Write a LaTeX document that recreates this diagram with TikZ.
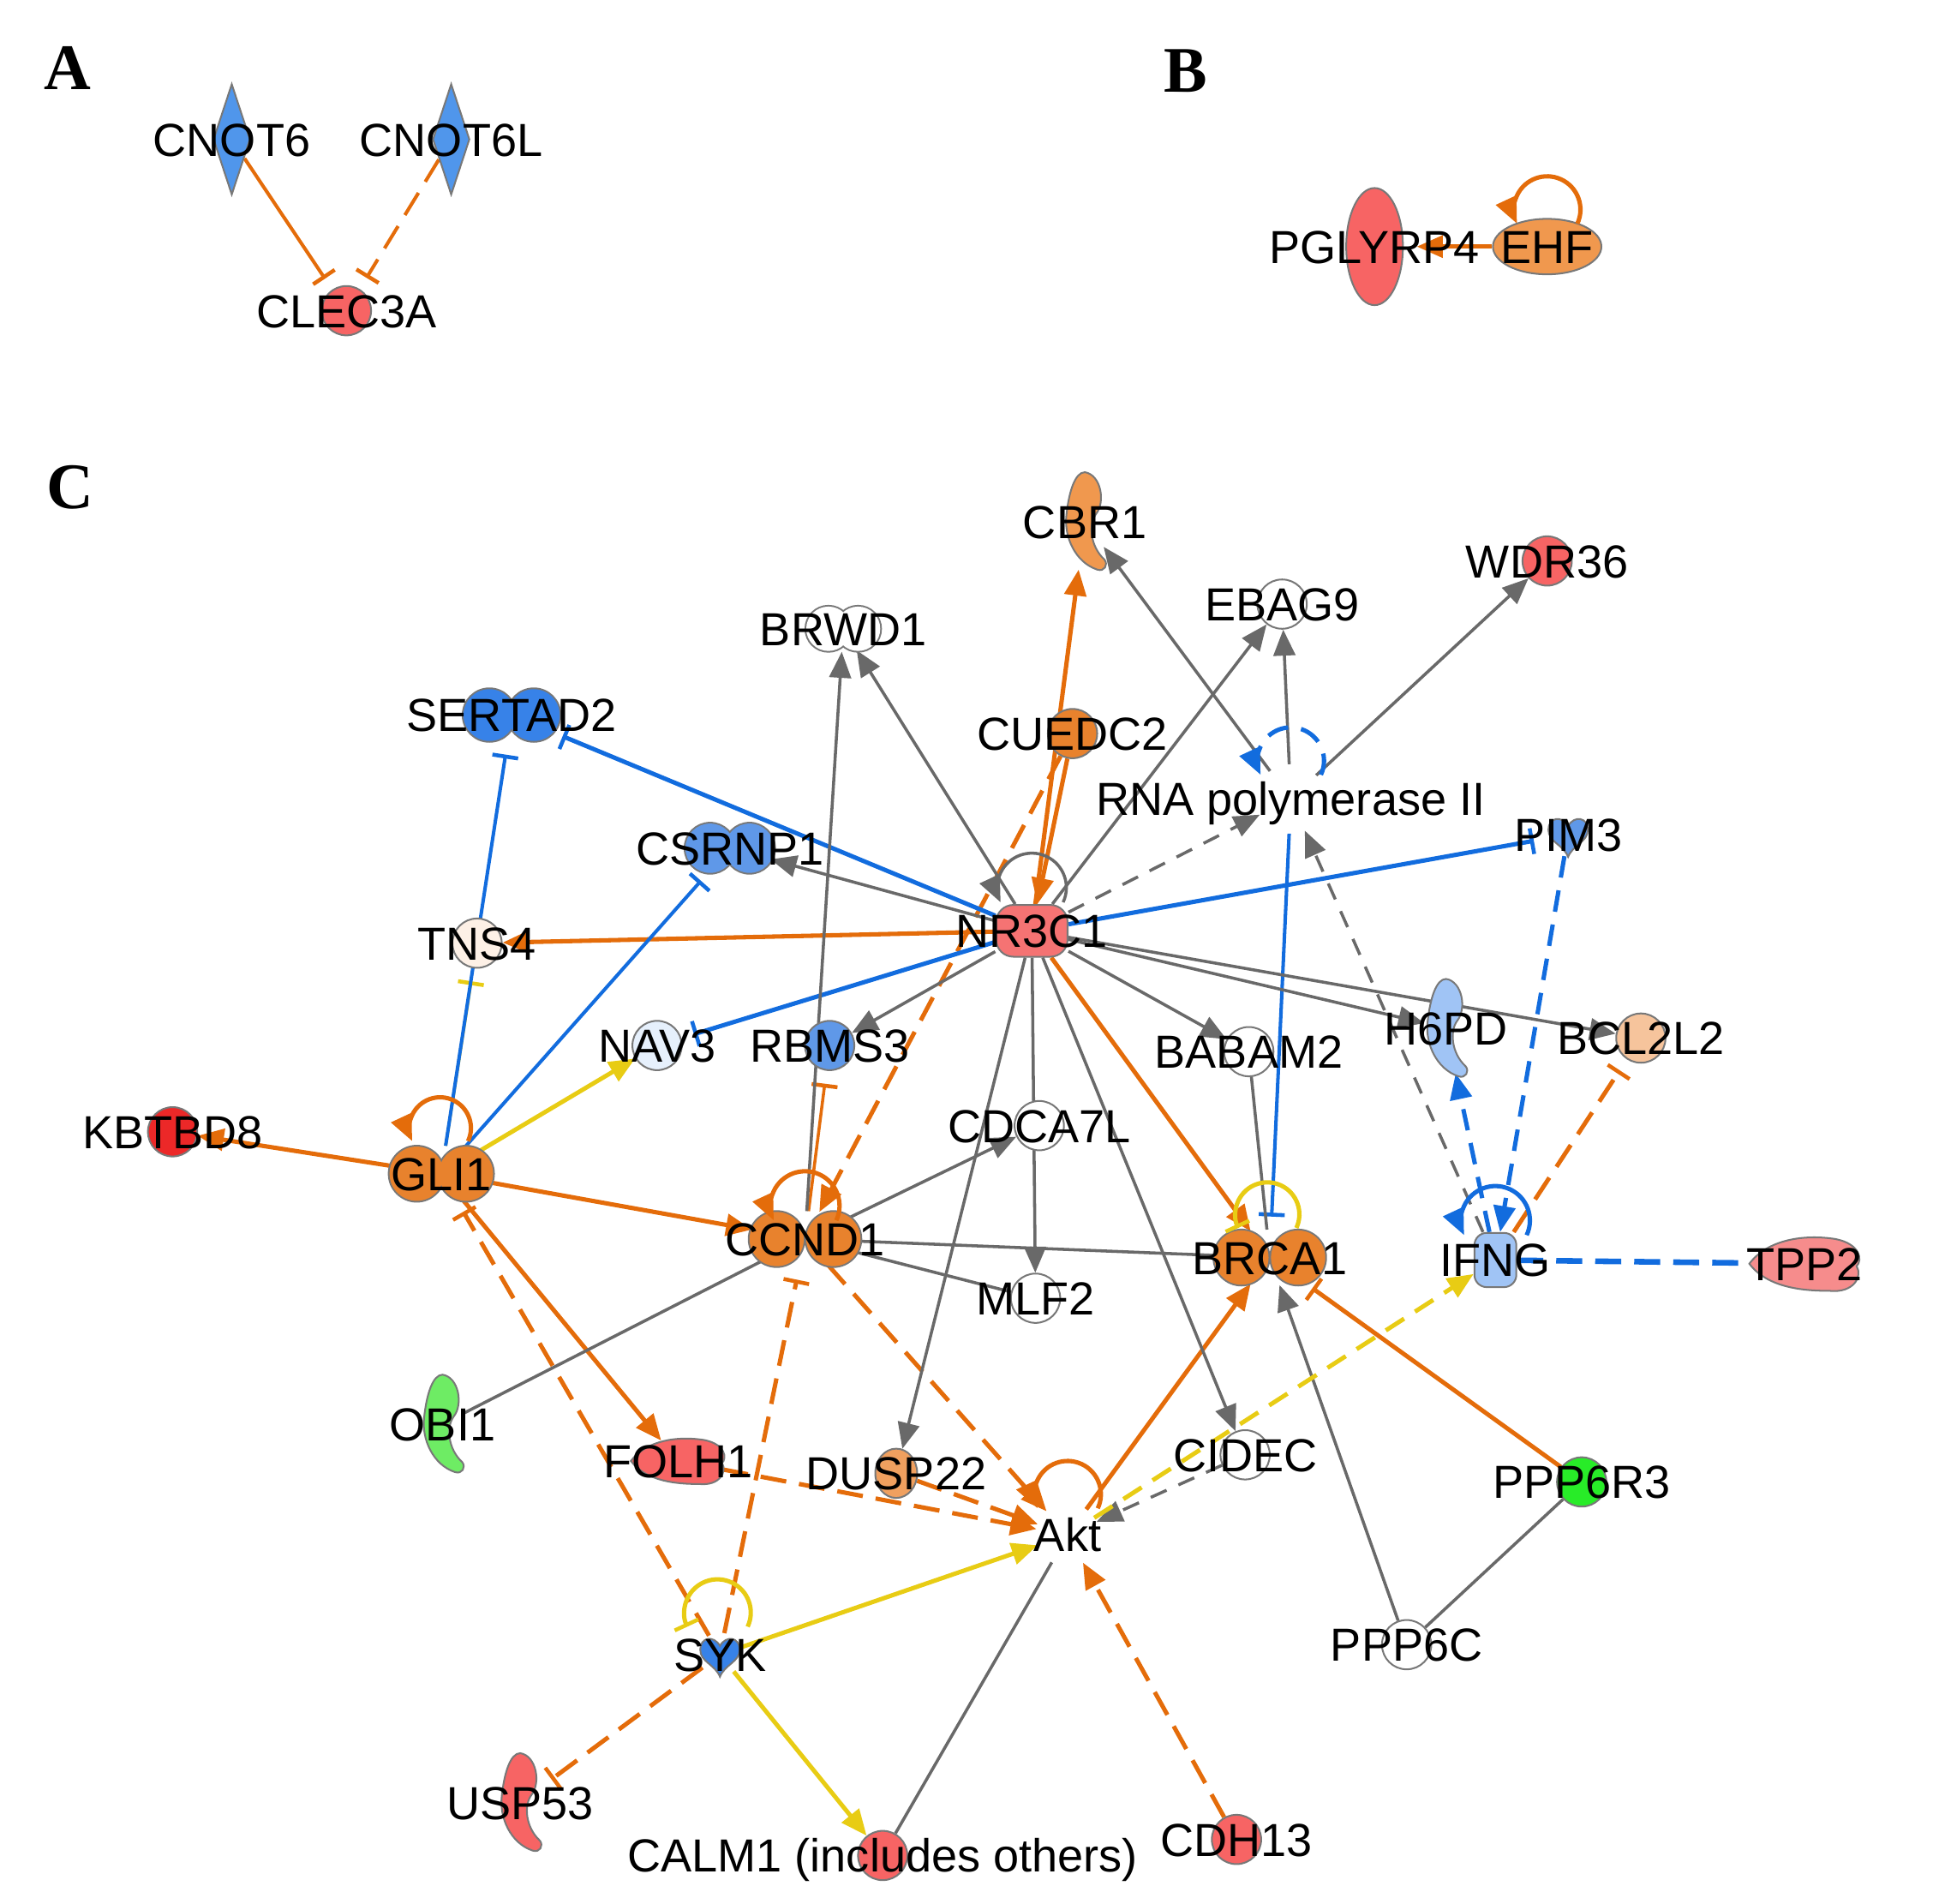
\documentclass[tikz,border=0pt]{standalone}
\usepackage{fontspec}
\setmainfont{Liberation Sans}
\newfontfamily\panelfont{Liberation Serif}
\usepackage{tikz}
\usetikzlibrary{arrows.meta, calc, shapes.geometric, backgrounds}

\begin{document}
\begin{tikzpicture}[
    act/.style={-{Triangle[length=6pt, width=5pt]}},
    inh/.style={-{Bar[width=6pt, line width=0.9pt]}, shorten >=3pt},
    oe/.style={draw=eorange, line width=1pt},
    be/.style={draw=eblue, line width=1pt},
    ge/.style={draw=egray, line width=0.7pt},
    ye/.style={draw=eyellow, line width=1pt},
    odash/.style={dash pattern=on 6pt off 3pt},
    gdash/.style={dash pattern=on 4pt off 3pt},
    gene/.style={draw=sgray, line width=0.4pt, inner sep=0pt},
    hold/.style={inner sep=0pt},
    lab/.style={inner sep=0pt, font=\fontsize{10.7}{12}\selectfont, text height=7.7pt, text depth=0pt},
    panel/.style={inner sep=0pt, font=\panelfont\bfseries\fontsize{15}{18}\selectfont, text height=9.9pt, text depth=0pt}
]
    % 1. Colours
    \definecolor{eorange}{RGB}{228,108,10}
    \definecolor{eblue}{RGB}{18,108,222}
    \definecolor{egray}{RGB}{105,105,105}
    \definecolor{eyellow}{RGB}{232,204,20}
    \definecolor{sgray}{RGB}{120,120,120}
    \definecolor{gdia}{RGB}{80,150,235}
    \definecolor{gred}{RGB}{247,100,100}
    \definecolor{gehf}{RGB}{240,152,78}
    \definecolor{gorange}{RGB}{232,130,45}
    \definecolor{gsert}{RGB}{55,130,232}
    \definecolor{gblue}{RGB}{95,152,232}
    \definecolor{glight}{RGB}{160,196,245}
    \definecolor{gnav}{RGB}{230,240,252}
    \definecolor{gpeach}{RGB}{253,240,230}
    \definecolor{gbcl}{RGB}{246,196,156}
    \definecolor{gkbt}{RGB}{236,40,40}
    \definecolor{gtpp}{RGB}{246,140,140}
    \definecolor{gobi}{RGB}{110,236,100}
    \definecolor{ggreen}{RGB}{40,236,40}
    \definecolor{gnr}{RGB}{245,115,115}
    \definecolor{gdusp}{RGB}{240,160,95}

    \useasboundingbox (0,0) rectangle (15.68,-15.44);

    % 2. Panel letters
    \node[panel] (pa) at (0.55,-0.55) {A};
    \node[panel] (pb) at (9.62,-0.57) {B};
    \node[panel] (pc) at (0.57,-3.95) {C};

    % 3. Panel A and B shapes
    \node[gene, diamond, fill=gdia, minimum width=0.30cm, minimum height=0.90cm] (cnotsix) at (1.88,-1.13) {};
    \node[gene, diamond, fill=gdia, minimum width=0.30cm, minimum height=0.90cm] (cnotsixl) at (3.66,-1.13) {};
    \node[gene, ellipse, fill=gred, minimum width=0.46cm, minimum height=0.95cm] (pglyrp) at (11.15,-2.00) {};
    \node[gene, ellipse, fill=gehf, minimum width=0.88cm, minimum height=0.45cm] (ehf) at (12.55,-2.00) {};

    % 4. Circles
    \foreach \nm/\x/\y/\c in {clec/2.81/-2.52/gred, wdr/12.55/-4.55/gred, ebag/10.40/-4.90/white,
        cuedc/8.70/-5.95/gorange, tns/3.87/-7.65/gpeach, nav/5.33/-8.48/gnav, rbms/6.73/-8.48/gblue,
        bcl/13.31/-8.42/gbcl, babam/10.13/-8.53/white, kbt/1.40/-9.18/gkbt, cdca/8.43/-9.13/white,
        mlf/8.40/-10.53/white, cidec/10.10/-11.80/white, ppp6r/12.83/-12.02/ggreen,
        ppp6c/11.41/-13.34/white, calm/7.16/-15.05/gred, cdh/10.03/-14.92/gred}
        \node[gene, circle, minimum size=0.40cm, fill=\c] (\nm) at (\x,\y) {};

    % 5. Double circles
    \foreach \nm/\x/\y/\d/\r/\c in {brwd/6.84/-5.10/0.12/0.18/white, sertad/4.15/-5.80/0.18/0.21/gsert,
        csrnp/5.92/-6.88/0.16/0.20/gblue, gli/3.58/-9.52/0.20/0.22/gorange,
        ccnd/6.53/-10.05/0.23/0.22/gorange, brca/10.30/-10.20/0.23/0.22/gorange} {
        \node[hold, ellipse, minimum width={2*(\d+\r)*1cm}, minimum height={2*\r*1cm}] (\nm) at (\x,\y) {};
        \draw[sgray, line width=0.8pt] (\x-\d,\y) circle (\r) (\x+\d,\y) circle (\r);
        \fill[\c] (\x-\d,\y) circle (\r) (\x+\d,\y) circle (\r);
    }

    % 6. Enzymes
    \foreach \nm/\x/\y/\c in {cbr/8.80/-4.23/gehf, hpd/11.73/-8.34/glight, obi/3.59/-11.55/gobi, usp/4.22/-14.62/gred} {
        \node[hold, ellipse, minimum width=0.34cm, minimum height=0.80cm] (\nm) at (\x,\y) {};
        \filldraw[fill=\c, draw=sgray, line width=0.4pt, shift={(\x,\y)}]
            (0,0.40) .. controls (0.13,0.38) and (0.17,0.16) .. (0.09,0.06)
            .. controls (0.03,-0.02) and (0.04,-0.20) .. (0.16,-0.31)
            .. controls (0.19,-0.35) and (0.16,-0.41) .. (0.10,-0.39)
            .. controls (-0.08,-0.33) and (-0.17,-0.12) .. (-0.15,0.05)
            .. controls (-0.13,0.24) and (-0.08,0.40) .. (0,0.40) -- cycle;
    }

    % 7. Kinases and peptidases
    \foreach \nm/\x/\y/\c in {pim/12.72/-6.77/gblue, syk/5.84/-13.42/gsert} {
        \node[hold, circle, minimum size=0.34cm] (\nm) at (\x,\y) {};
        \filldraw[fill=\c, draw=sgray, line width=0.4pt, shift={(\x,\y)}]
            (0,-0.18) .. controls (-0.04,-0.08) and (-0.16,-0.06) .. (-0.16,0.04)
            .. controls (-0.16,0.14) and (-0.05,0.16) .. (0,0.07)
            .. controls (0.05,0.16) and (0.16,0.14) .. (0.16,0.04)
            .. controls (0.16,-0.06) and (0.04,-0.08) .. (0,-0.18) -- cycle;
    }
    \foreach \nm/\x/\y/\s/\c in {tpp/14.64/-10.25/1/gtpp, folh/5.50/-11.85/0.85/gred} {
        \node[hold, ellipse, minimum width={0.9*\s*1cm}, minimum height={0.4*\s*1cm}] (\nm) at (\x,\y) {};
        \filldraw[fill=\c, draw=sgray, line width=0.4pt, shift={(\x,\y)}, scale=\s]
            (-0.45,0) .. controls (-0.30,0.20) and (0,0.24) .. (0.25,0.20)
            .. controls (0.45,0.16) and (0.47,0.03) .. (0.42,-0.02)
            .. controls (0.47,-0.10) and (0.40,-0.24) .. (0.20,-0.22)
            .. controls (0,-0.22) and (-0.30,-0.20) .. (-0.45,0) -- cycle;
    }

    % 8. Other genes and groups
    \node[gene, rectangle, rounded corners=0.14cm, fill=gnr, minimum width=0.58cm, minimum height=0.42cm] (nr) at (8.37,-7.55) {};
    \node[gene, rectangle, rounded corners=0.10cm, fill=glight, minimum width=0.34cm, minimum height=0.44cm] (ifng) at (12.13,-10.22) {};
    \node[gene, ellipse, fill=gdusp, minimum width=0.34cm, minimum height=0.40cm] (dusp) at (7.27,-11.95) {};
    \node[hold, circle, minimum size=0.55cm] (rnapol) at (10.47,-6.48) {};
    \node[hold, circle, minimum size=0.50cm] (akt) at (8.66,-12.45) {};

    % 9. Connectors
    \begin{scope}[on background layer]
        \draw[oe, line width=0.8pt, inh] (cnotsix) -- (clec);
        \draw[oe, line width=0.8pt, inh, odash] (cnotsixl) -- (clec);
        \draw[oe, act, shorten >=3pt] (ehf) -- (pglyrp);

        \draw[oe, act] (nr) -- (cbr);
        \draw[oe, act] (cuedc) -- (nr);
        \draw[oe, act] (nr) -- (tns);
        \draw[oe, act] (nr) -- (brca);
        \draw[oe, act] (gli) -- (kbt);
        \draw[oe, act] (gli) -- (ccnd);
        \draw[oe, act] (gli) -- (folh);
        \draw[oe, act] (akt) -- (brca);
        \draw[oe, inh] (ppp6r) -- (brca);
        \draw[oe, line width=0.7pt, inh] (ccnd) -- (rbms);
        \draw[oe, act, odash] (cuedc) -- (ccnd);
        \draw[oe, act, odash] (ccnd) -- (akt);
        \draw[oe, act, odash] (folh) -- (akt);
        \draw[oe, act, odash] (dusp) -- (akt);
        \draw[oe, act, odash] (cdh) -- (akt);
        \draw[oe, inh, odash] (syk) -- (gli);
        \draw[oe, inh, odash] (syk) -- (ccnd);
        \draw[oe, inh, odash] (syk) -- (usp);
        \draw[oe, inh, odash] (ifng) -- (bcl);

        \draw[be, inh] (nr) -- (sertad);
        \draw[be, inh] (nr) -- (nav);
        \draw[be, inh] (nr) -- (pim);
        \draw[ye, line width=0.7pt, inh] (gli) -- (tns);
        \draw[be, line width=0.8pt, inh] (gli) -- (sertad);
        \draw[be, line width=0.8pt, inh] (gli) -- (csrnp);
        \draw[be, line width=0.8pt, inh] (rnapol) -- (brca);
        \draw[be, act, dash pattern=on 5pt off 3pt] (ifng) -- (hpd);
        \draw[be, act, dash pattern=on 5pt off 3pt] (pim) -- (ifng);
        \draw[be, line width=1.3pt, dash pattern=on 6pt off 3pt] (ifng) -- (tpp);

        \foreach \t in {csrnp, brwd, rbms, ebag, babam, hpd, bcl, mlf, dusp, cidec}
            \draw[ge, act] (nr) -- (\t);
        \foreach \t in {ebag, wdr, cbr}
            \draw[ge, act] (rnapol) -- (\t);
        \draw[ge, act] (ccnd) -- (brwd);
        \draw[ge, act] (ccnd) -- (cdca);
        \draw[ge] (ccnd) -- (brca);
        \draw[ge] (ccnd) -- (mlf);
        \draw[ge] (ccnd) -- (obi);
        \draw[ge] (babam) -- (brca);
        \draw[ge, act] (ppp6c) -- (brca);
        \draw[ge] (ppp6r) -- (ppp6c);
        \draw[ge] (akt) -- (calm);
        \draw[ge, act, gdash] (nr) -- (rnapol);
        \draw[ge, act, gdash] (ifng) -- (rnapol);
        \draw[ge, act, gdash] (cidec) -- (akt);

        \draw[ye, act] (gli) -- (nav);
        \draw[ye, act] (syk) -- (akt);
        \draw[ye, act] (syk) -- (calm);
        \draw[ye, act, dash pattern=on 5pt off 3pt] (akt) -- (ifng);
    \end{scope}

    % 10. Self loops
    \draw[oe, act] ($(ehf)+(0,0.30)$) ++(-25:0.27) arc[start angle=-25, end angle=205, radius=0.27];
    \draw[ge, act] ($(nr)+(0,0.35)$) ++(-25:0.28) arc[start angle=-25, end angle=205, radius=0.28];
    \draw[be, act, dash pattern=on 5pt off 3pt] ($(rnapol)+(0,0.31)$) ++(-25:0.27) arc[start angle=-25, end angle=205, radius=0.27];
    \draw[oe, act] ($(gli)+(-0.01,0.37)$) ++(-25:0.25) arc[start angle=-25, end angle=205, radius=0.25];
    \draw[oe, act] ($(ccnd)+(0,0.27)$) ++(-25:0.28) arc[start angle=-25, end angle=205, radius=0.28];
    \draw[ye, inh, shorten >=0pt] ($(brca)+(-0.02,0.35)$) ++(-25:0.26) arc[start angle=-25, end angle=205, radius=0.26];
    \draw[be, act] ($(ifng)+(0,0.32)$) ++(-25:0.28) arc[start angle=-25, end angle=205, radius=0.28];
    \draw[oe, act] ($(akt)+(0,0.33)$) ++(-25:0.27) arc[start angle=-25, end angle=205, radius=0.27];
    \draw[ye, inh, shorten >=0pt] ($(syk)+(-0.02,0.34)$) ++(-25:0.27) arc[start angle=-25, end angle=205, radius=0.27];

    % 11. Labels
    \foreach \nm/\txt in {cnotsix/CNOT6, cnotsixl/CNOT6L, clec/CLEC3A, pglyrp/PGLYRP4, ehf/EHF,
        cbr/CBR1, wdr/WDR36, ebag/EBAG9, brwd/BRWD1, sertad/SERTAD2, cuedc/CUEDC2, pim/PIM3,
        csrnp/CSRNP1, nr/NR3C1, tns/TNS4, nav/NAV3, rbms/RBMS3, hpd/H6PD, bcl/BCL2L2,
        babam/BABAM2, kbt/KBTBD8, gli/GLI1, cdca/CDCA7L, ccnd/CCND1, brca/BRCA1, ifng/IFNG,
        tpp/TPP2, mlf/MLF2, obi/OBI1, folh/FOLH1, dusp/DUSP22, cidec/CIDEC, ppp6r/PPP6R3,
        akt/Akt, syk/SYK, ppp6c/PPP6C, usp/USP53, calm/CALM1 (includes others), cdh/CDH13,
        rnapol/RNA polymerase II}
        \node[lab] (\nm-t) at (\nm) {\txt};
\end{tikzpicture}
\end{document}
